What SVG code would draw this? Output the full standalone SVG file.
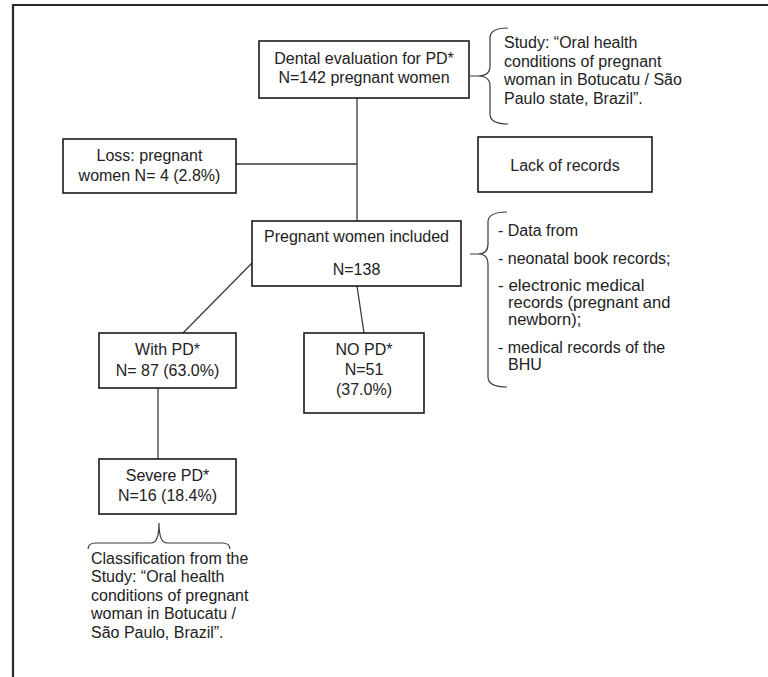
<svg xmlns="http://www.w3.org/2000/svg" width="768" height="677" viewBox="0 0 768 677">
<style>
.box{fill:#fff;stroke:#1a1a1a;stroke-width:1.6}
.ln{fill:none;stroke:#3a3a3a;stroke-width:1.3}
.br{fill:none;stroke:#3a3a3a;stroke-width:1.2}
text{font-family:"Liberation Sans",Arial,sans-serif;font-size:16px;fill:#222}
.c{text-anchor:middle}
</style>
<rect width="768" height="677" fill="#fff"/>
<path d="M13,677 L13,5 L768,5" fill="none" stroke="#2a2a2a" stroke-width="2.2"/>

<g id="connectors">
<line class="ln" x1="357" y1="98" x2="357" y2="221"/>
<line class="ln" x1="236" y1="164" x2="357" y2="164"/>
<line class="ln" x1="252" y1="263" x2="183" y2="333"/>
<line class="ln" x1="357" y1="286" x2="364" y2="333"/>
<line class="ln" x1="158" y1="388" x2="158" y2="459"/>
</g>

<g id="dental">
<rect class="box" x="259" y="41" width="210" height="57"/>
<text class="c" x="364" y="64">Dental evaluation for PD*</text>
<text class="c" x="364" y="82.5">N=142 pregnant women</text>
</g>

<g id="study-note">
<path class="br" d="M469,76 L478,76 Q490,76 490,66 L490,38 Q490,28 508,28 M478,76 Q490,76 490,86 L490,114 Q490,124 508,124"/>
<text x="504" y="48">Study: “Oral health</text>
<text x="504" y="66.5">conditions of pregnant</text>
<text x="504" y="85">woman in Botucatu / São</text>
<text x="504" y="103.5">Paulo state, Brazil”.</text>
</g>

<g id="loss">
<rect class="box" x="63" y="139" width="173" height="54"/>
<text class="c" x="149.5" y="160.5">Loss: pregnant</text>
<text class="c" x="149.5" y="181">women N= 4 (2.8%)</text>
</g>

<g id="lack">
<rect class="box" x="478" y="137" width="174" height="55"/>
<text class="c" x="565" y="170.5">Lack of records</text>
</g>

<g id="included">
<rect class="box" x="252" y="221" width="209" height="65"/>
<text class="c" x="356.5" y="242">Pregnant women included</text>
<text class="c" x="356.5" y="275">N=138</text>
</g>

<g id="data-note">
<path class="br" d="M470,254 L478,254 Q488,254 488,244 L488,222 Q488,212 507,212 M478,254 Q488,254 488,264 L488,377 Q488,387 507,387"/>
<text x="498" y="236">- Data from</text>
<text x="498" y="264">- neonatal book records;</text>
<text x="498" y="291" style="font-size:17px">- electronic medical</text>
<text x="508" y="308" style="font-size:16.5px">records (pregnant and</text>
<text x="508" y="325" style="font-size:16.5px">newborn);</text>
<text x="498" y="353">- medical records of the</text>
<text x="508" y="369.5">BHU</text>
</g>

<g id="withpd">
<rect class="box" x="99" y="333" width="137" height="55"/>
<text class="c" x="167.5" y="355">With PD*</text>
<text class="c" x="167.5" y="375.5">N= 87 (63.0%)</text>
</g>

<g id="nopd">
<rect class="box" x="304" y="333" width="120" height="80"/>
<text class="c" x="364" y="355">NO PD*</text>
<text class="c" x="364" y="375">N=51</text>
<text class="c" x="364" y="395">(37.0%)</text>
</g>

<g id="severe">
<rect class="box" x="99" y="459" width="137" height="55"/>
<text class="c" x="167.5" y="480.5">Severe PD*</text>
<text class="c" x="167.5" y="501">N=16 (18.4%)</text>
</g>

<g id="classification-note">
<path class="br" d="M88,549 Q88,543 96,543 L151,543 Q159,543 159,523 Q159,543 167,543 L222,543 Q230,543 230,549"/>
<text x="91" y="563.5">Classification from the</text>
<text x="91" y="582">Study: “Oral health</text>
<text x="91" y="600.5">conditions of pregnant</text>
<text x="91" y="619">woman in Botucatu /</text>
<text x="91" y="637.5">São Paulo, Brazil”.</text>
</g>
</svg>
